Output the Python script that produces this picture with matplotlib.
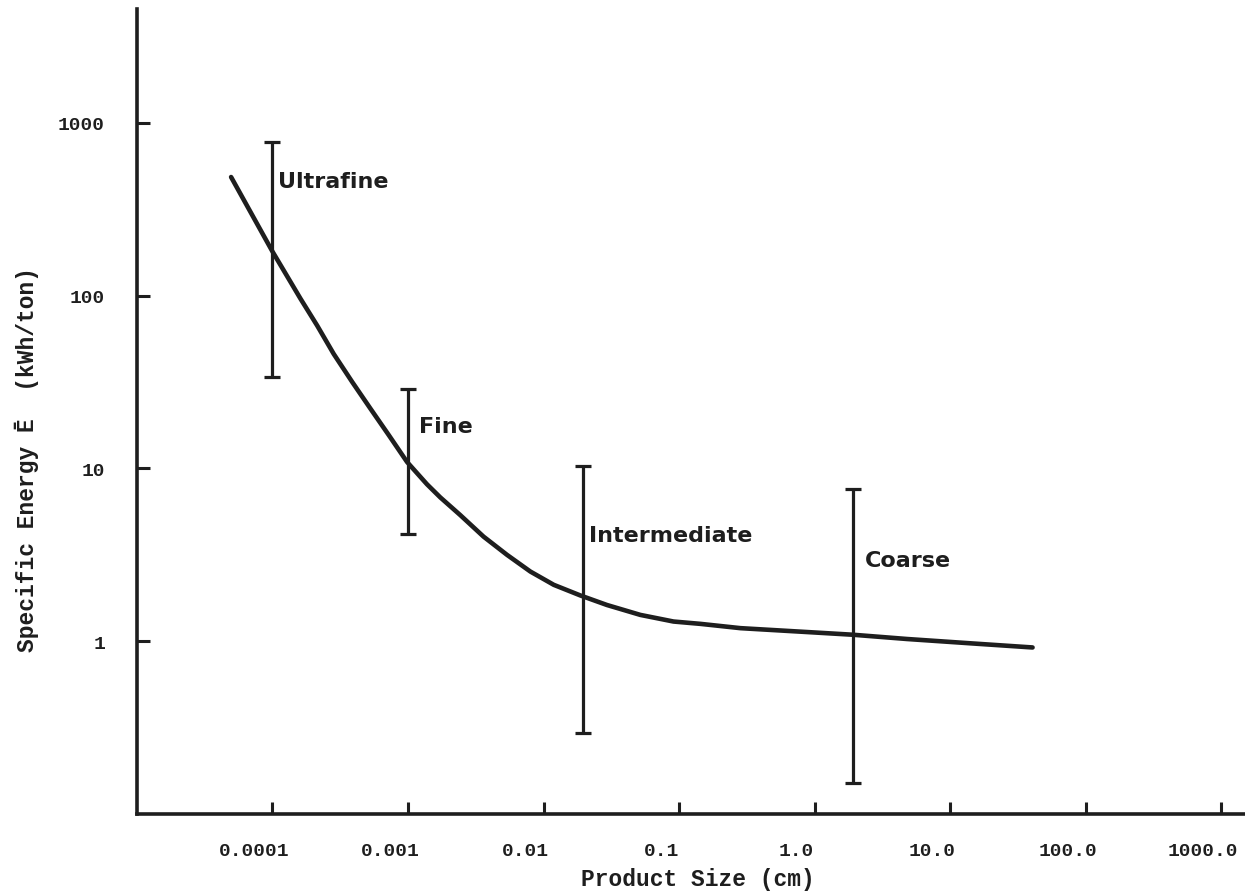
import matplotlib.pyplot as plt
from matplotlib.transforms import ScaledTranslation

# curva de energia especifica vs tamano de producto
size_cm = [4.95e-5, 1e-4, 1.21e-4, 1.61e-4, 2.14e-4, 2.83e-4, 3.87e-4, 5.28e-4,
           7.21e-4, 9.84e-4, 1.38e-3, 1.73e-3, 2.43e-3, 3.61e-3, 5.38e-3, 8.0e-3,
           0.0119, 0.0187, 0.0294, 0.0518, 0.091, 0.144, 0.284, 0.88, 1.92, 4.8,
           14.8, 40.6]
energy = [486, 180, 140, 96, 67, 46, 31.7, 22.2,
          15.6, 10.9, 8.1, 6.8, 5.37, 4.03, 3.16, 2.53,
          2.12, 1.84, 1.62, 1.42, 1.30, 1.26, 1.19, 1.13, 1.09, 1.03,
          0.97, 0.92]

# rangos por categoria (barras verticales)
categories = ['Ultrafine', 'Fine', 'Intermediate', 'Coarse']
bar_x = [1e-4, 1e-3, 0.0195, 1.92]
bar_low = [34, 4.15, 0.294, 0.152]
bar_high = [780, 28.7, 10.3, 7.6]
label_x = [1.09e-4, 1.21e-3, 0.0218, 2.36]
label_y = [462, 17.7, 4.1, 2.94]

xticks = [1e-4, 1e-3, 1e-2, 1e-1, 1, 10, 100, 1000]
xtick_labels = ['0.0001', '0.001', '0.01', '0.1', '1.0', '10.0', '100.0', '1000.0']
yticks = [1, 10, 100, 1000]
ytick_labels = ['1', '10', '100', '1000']

ink = '#1e1e1e'
mono = 'Liberation Mono'

fig = plt.figure(figsize=(12.45, 8.95), dpi=100)
ax = fig.add_axes([0.110, 0.0894, 0.890, 0.8994])
ax.set_xscale('log')
ax.set_yscale('log')
ax.set_xlim(1e-5, 10 ** 3.176)
ax.set_ylim(0.1, 10 ** 3.659)

ax.plot(size_cm, energy, color=ink, lw=3.3, solid_capstyle='round',
        solid_joinstyle='round')

for x, lo, hi in zip(bar_x, bar_low, bar_high):
    ax.vlines(x, lo, hi, color=ink, lw=2.3)
    ax.plot([x, x], [lo, hi], ls='none', marker='_', ms=11, mew=2.3, color=ink)

for name, x, y in zip(categories, label_x, label_y):
    ax.text(x, y, name, ha='left', va='center', fontsize=16,
            fontweight='bold', family='DejaVu Sans', color=ink)

# ejes
for side in ['top', 'right']:
    ax.spines[side].set_visible(False)
for side in ['left', 'bottom']:
    ax.spines[side].set_linewidth(2.6)
    ax.spines[side].set_color(ink)

ax.minorticks_off()
ax.set_xticks(xticks)
ax.set_xticklabels(xtick_labels, fontsize=14, fontweight='bold', family=mono, color=ink)
ax.set_yticks(yticks)
ax.set_yticklabels(ytick_labels, fontsize=14, fontweight='bold', family=mono, color=ink)
ax.tick_params(axis='both', direction='in', length=9, width=2.2, color=ink)
ax.tick_params(axis='x', pad=20)
ax.tick_params(axis='y', pad=23)

shift = ScaledTranslation(-0.18, 0, fig.dpi_scale_trans)
for lab in ax.get_xticklabels():
    lab.set_transform(lab.get_transform() + shift)

ax.set_xlabel('Product Size (cm)', fontsize=16.5, fontweight='bold', family=mono,
              color=ink, va='center')
ax.xaxis.set_label_coords(0.506, -0.0807)
ax.set_ylabel('Specific Energy \u0112  (kWh/ton)', fontsize=16.5, fontweight='bold',
              family=mono, color=ink, va='center', ha='center')
ax.yaxis.set_label_coords(-0.0993, 0.442)

fig.savefig('out.png', dpi=100)
